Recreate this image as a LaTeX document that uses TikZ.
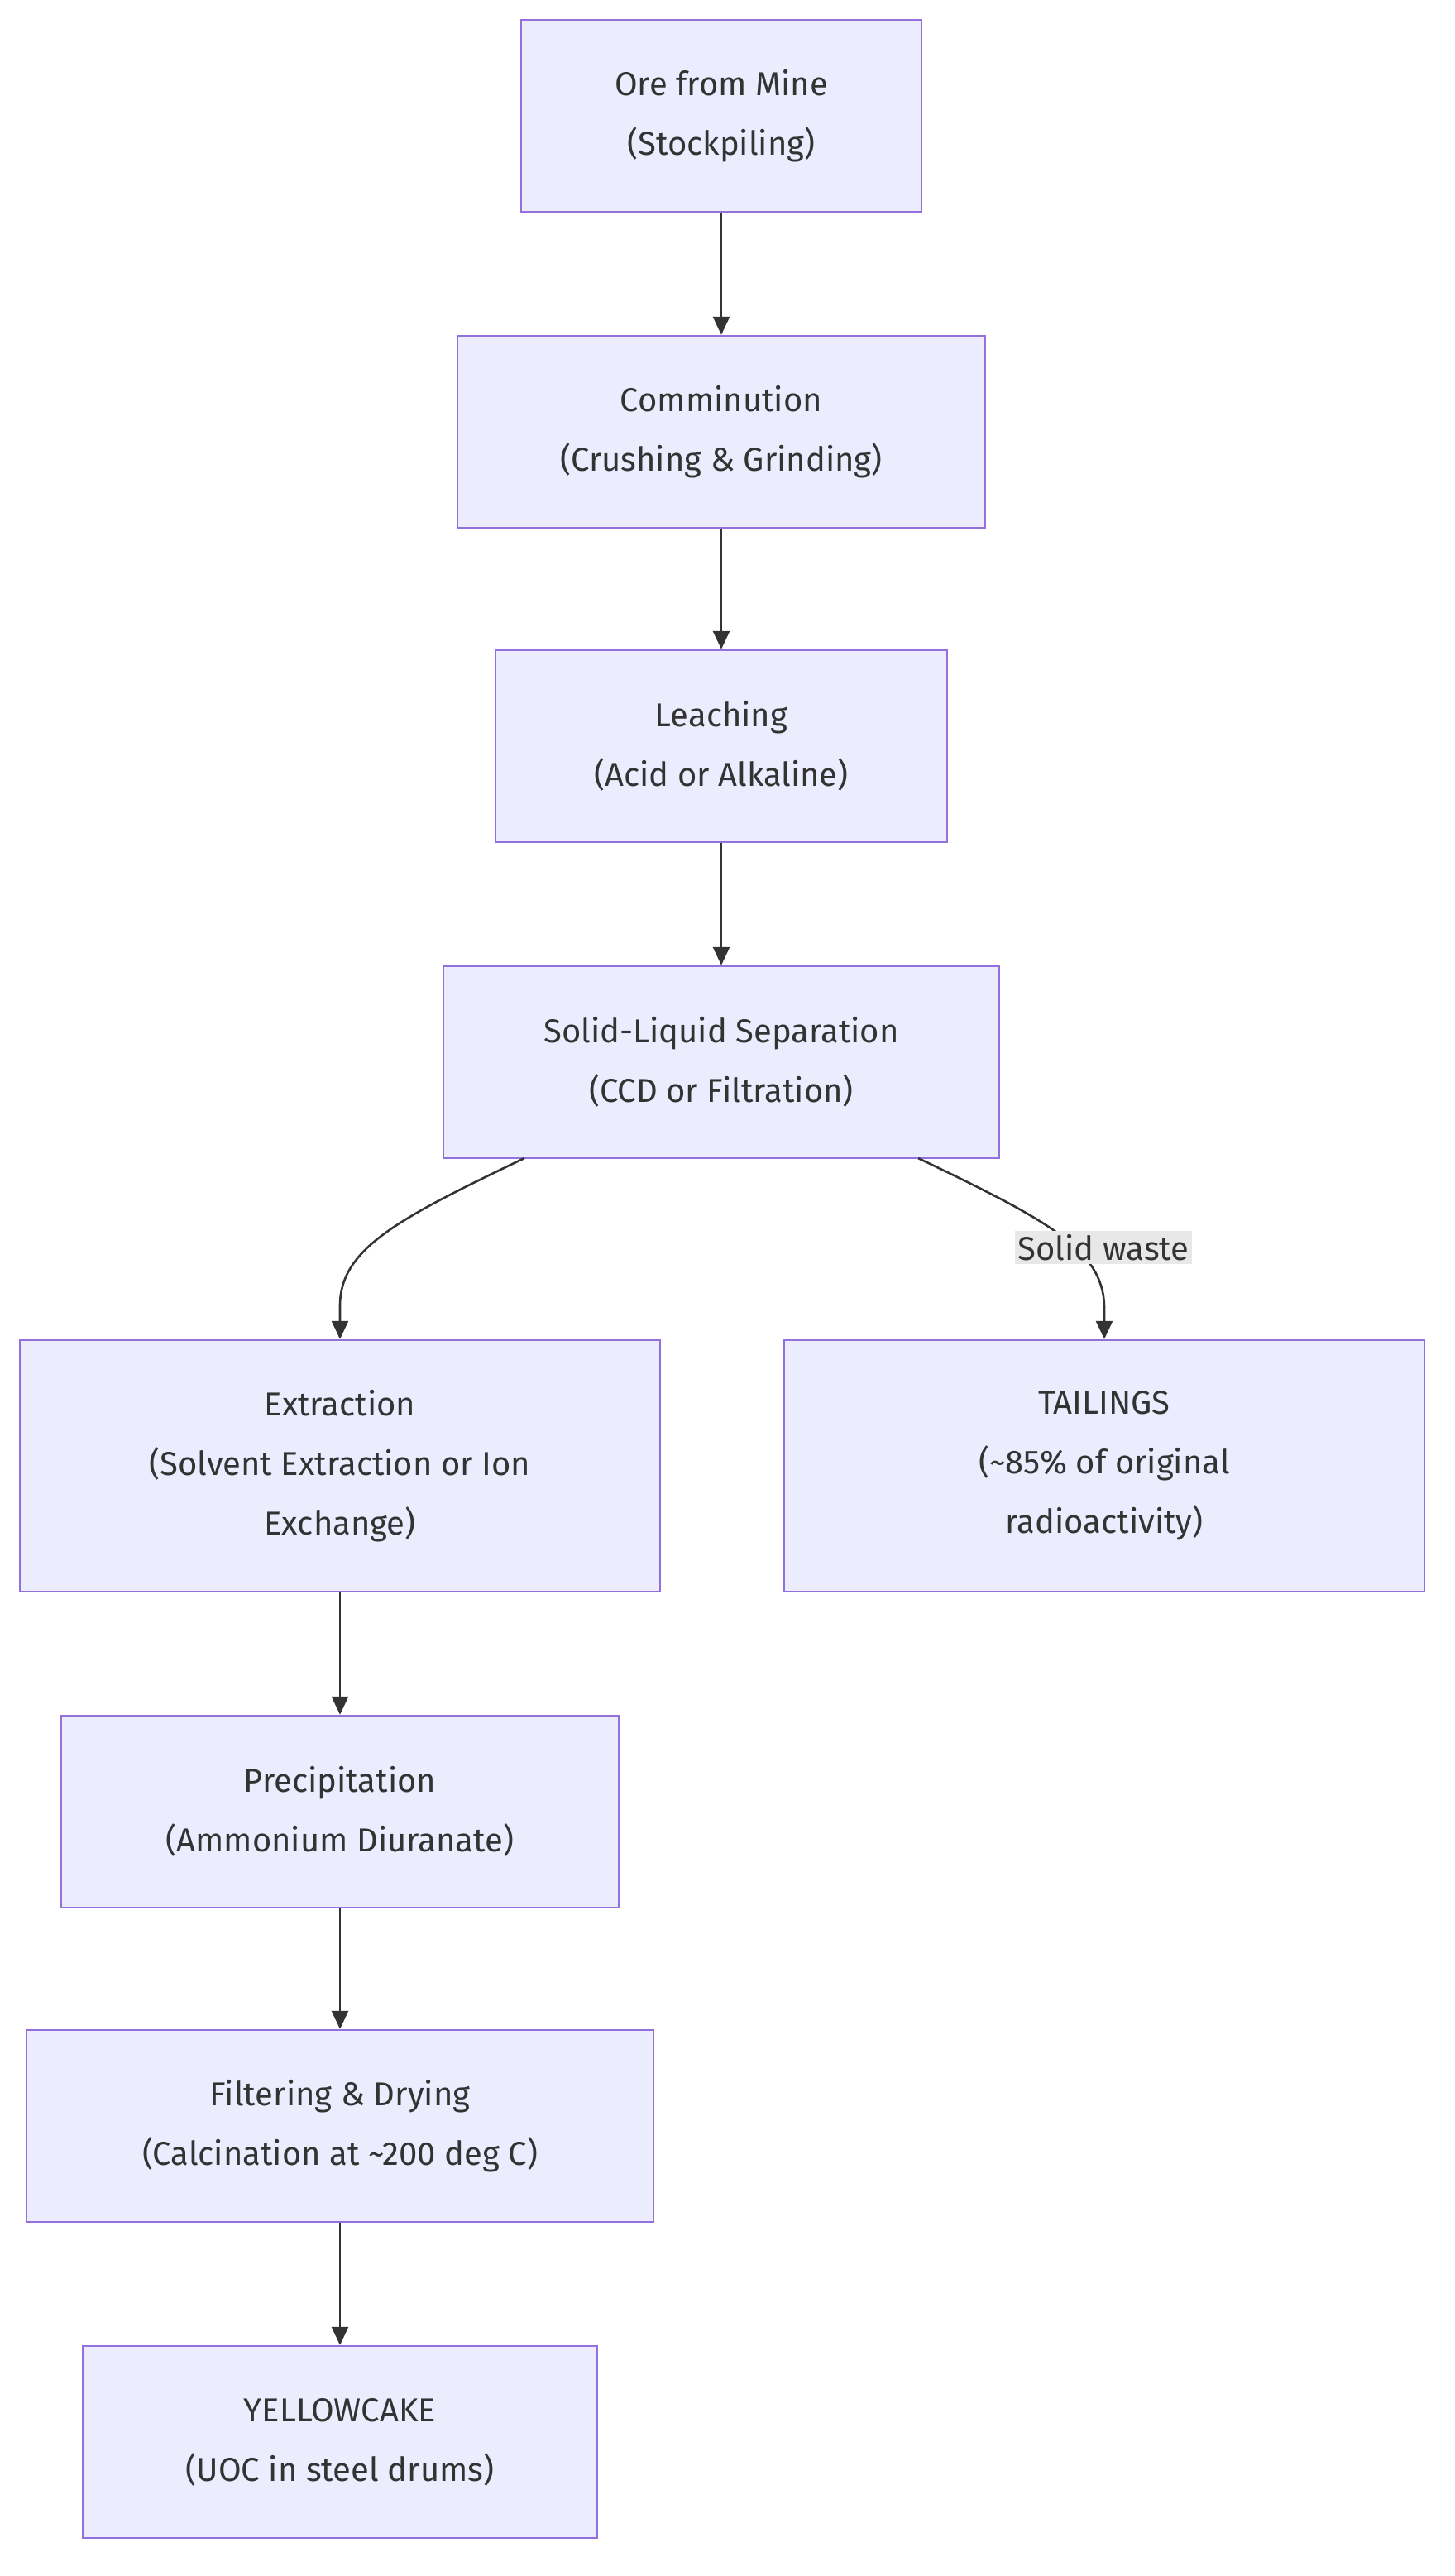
\documentclass[tikz,border=0pt]{standalone}
\usepackage{fontspec}
\setmainfont{Fira Sans}
\usetikzlibrary{arrows.meta}
\definecolor{boxfill}{HTML}{ECECFF}
\definecolor{boxline}{HTML}{9370DB}
\definecolor{linkcol}{HTML}{333333}
\tikzset{
  stage/.style={draw=boxline, fill=boxfill, line width=1.2pt, align=center,
    font=\fontsize{20}{36}\selectfont, text=linkcol, inner sep=0pt},
  link/.style={draw=linkcol, line width=1.3pt, -{Triangle[length=11pt,width=10pt]}},
  tag/.style={fill=black!9, font=\fontsize{20}{24}\selectfont, text=linkcol, inner sep=2pt}
}
\begin{document}
\begin{tikzpicture}[x=1pt,y=-1pt]

\useasboundingbox (0,0) rectangle (879,1557) ;

\node[stage, minimum width=242pt, minimum height=116pt] (ore) at (436,70) {Ore from Mine\\(Stockpiling)} ;
\node[stage, minimum width=319pt, minimum height=116pt] (comm) at (436,261) {Comminution\\(Crushing \& Grinding)} ;
\node[stage, minimum width=273pt, minimum height=116pt] (leach) at (436,451) {Leaching\\(Acid or Alkaline)} ;
\node[stage, minimum width=336pt, minimum height=116pt] (sep) at (436,642) {Solid-Liquid Separation\\(CCD or Filtration)} ;
\node[stage, minimum width=387pt, minimum height=152pt] (extr) at (205.5,886) {Extraction\\(Solvent Extraction or Ion\\Exchange)} ;
\node[stage, minimum width=387pt, minimum height=152pt] (tail) at (667.5,886) {TAILINGS\\(\textasciitilde 85\% of original\\radioactivity)} ;
\node[stage, minimum width=337pt, minimum height=116pt] (prec) at (205.5,1095) {Precipitation\\(Ammonium Diuranate)} ;
\node[stage, minimum width=379pt, minimum height=116pt] (filt) at (205.5,1285) {Filtering \& Drying\\(Calcination at \textasciitilde 200 deg C)} ;
\node[stage, minimum width=311pt, minimum height=116pt] (yell) at (205.5,1476) {YELLOWCAKE\\(UOC in steel drums)} ;

\coordinate (sepL) at (317,700) ;
\coordinate (sepR) at (555,700) ;

\draw[link] (ore) -- (comm) ;
\draw[link] (comm) -- (leach) ;
\draw[link] (leach) -- (sep) ;
\draw[link] (sepL) .. controls (240,737) and (205,755) .. (205.5,790) -- (extr.north) ;
\draw[link] (sepR) .. controls (632,737) and (667,755) .. (667.5,790) -- (tail.north) ;
\draw[link] (extr) -- (prec) ;
\draw[link] (prec) -- (filt) ;
\draw[link] (filt) -- (yell) ;

\node[tag] (waste) at (667,754) {Solid waste} ;

\end{tikzpicture}
\end{document}
